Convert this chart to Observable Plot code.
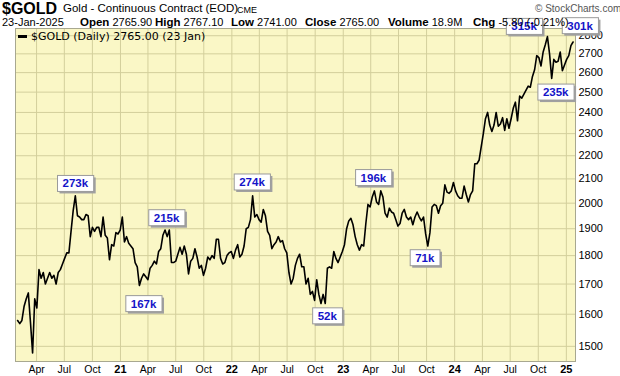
<!DOCTYPE html>
<html><head><meta charset="utf-8">
<script src="https://cdn.jsdelivr.net/npm/d3@7"></script>
<script src="https://cdn.jsdelivr.net/npm/@observablehq/plot@0.6"></script>
<style>
body{margin:0;background:#fff;width:620px;height:376px;overflow:hidden;position:relative;font-family:"Liberation Sans",Arial,sans-serif;color:#000}
#hdr{position:relative;height:28px}
#hdr span{position:absolute;white-space:nowrap;line-height:1}
.l2{top:17px;font-size:11px}
.l2 b{font-size:11.5px}
#legend{position:absolute;left:18px;top:31px;font-family:"DejaVu Sans",Verdana,sans-serif;font-size:11px;white-space:nowrap;line-height:1}
#legend i{display:inline-block;width:9px;height:3px;background:#000;vertical-align:middle;margin-right:4px;margin-top:-2px}
svg{overflow:visible}
</style></head><body>
<div id="hdr">
  <span style="left:2px;top:1px;font-size:16px;font-weight:bold">$GOLD</span>
  <span style="left:63px;top:3px;font-size:11.5px">Gold - Continuous Contract (EOD)</span>
  <span style="left:237px;top:6px;font-size:9px">CME</span>
  <span style="left:535px;top:4px;font-size:10px;color:#555">© StockCharts.com</span>
  <span class="l2" style="left:2px">23-Jan-2025</span>
  <span class="l2" style="left:80px"><b>Open</b> 2765.90</span>
  <span class="l2" style="left:155px"><b>High</b> 2767.10</span>
  <span class="l2" style="left:231px"><b>Low</b> 2741.00</span>
  <span class="l2" style="left:305px"><b>Close</b> 2765.00</span>
  <span class="l2" style="left:388px"><b>Volume</b> 18.9M</span>
  <span class="l2" style="left:473px"><b>Chg</b> -5.80 (-0.21%)</span>
</div>
<div id="chart"></div>
<div id="legend"><i></i>$GOLD (Daily) 2765.00 (23 Jan)</div>
<script>
// Weekly closes (Thursdays), starting 2020-01-30
const gold2020 = [1580,1570,1580,1625,1650,1670,1575,1480,1650,1620,
  1750,1720,1740,1700,1720,1740,1720,1730,1700,1740,
  1750,1770,1790,1810,1810,1890,1970,2030,1950,1945,
  1935,1935,1955,1950,1870,1905,1890,1905,1905,1870,
  1945,1875,1865,1785,1840,1835,1885,1880,1895];
const gold2021 = [1945,1850,1870,1845,1835,1825,1775,1760,1695,1720,
  1735,1725,1715,1755,1765,1780,1770,1815,1825,1875,
  1895,1870,1895,1775,1775,1780,1805,1830,1805,1835,
  1805,1735,1780,1790,1825,1795,1755,1765,1730,1755,
  1795,1785,1800,1790,1860,1860,1790,1770,1775,1800,
  1810,1815];
const gold2022 = [1790,1820,1840,1795,1805,1835,1900,1905,1935,2030,
  1945,1955,1935,1925,1975,1950,1890,1875,1825,1840,
  1850,1870,1850,1855,1825,1810,1740,1700,1720,1765,
  1790,1805,1760,1760,1700,1720,1665,1675,1645,1715,
  1665,1635,1665,1635,1755,1760,1755,1815,1790,1775,
  1795,1815];
const gold2023 = [1840,1900,1930,1940,1915,1870,1840,1820,1840,1835,
  1920,1995,1985,2025,2050,2005,1995,2050,2025,1960,
  1945,1980,1965,1960,1935,1910,1920,1960,1975,1945,
  1935,1945,1915,1945,1965,1945,1930,1945,1880,1835,
  1885,1985,1995,1990,1960,1990,2000,2075,2045,2040,
  2050,2085];
const gold2024 = [2050,2030,2020,2020,2070,2035,2005,2035,2050,2165,
  2165,2180,2240,2300,2370,2400,2340,2310,2340,2400,
  2335,2345,2375,2315,2370,2325,2370,2420,2450,2360,
  2480,2470,2490,2510,2530,2525,2580,2615,2690,2680,
  2635,2710,2750,2795,2700,2570,2670,2655,2660,2710,
  2610,2640];
const gold2025 = [2670,2690,2745,2765];
const startDate = "2020-01-30";

// Axis ticks
const monthTickDates = ["2020-04-01","2020-07-01","2020-10-01","2021-04-01","2021-07-01","2021-10-01",
  "2022-04-01","2022-07-01","2022-10-01","2023-04-01","2023-07-01","2023-10-01","2024-04-01","2024-07-01","2024-10-01"];
const monthTickLabels = ["Apr","Jul","Oct","Apr","Jul","Oct","Apr","Jul","Oct","Apr","Jul","Oct","Apr","Jul","Oct"];
const yearTickDates = ["2021-01-01","2022-01-01","2023-01-01","2024-01-01","2025-01-01"];
const yearTickLabels = ["21","22","23","24","25"];
const yTicks = [1500,1600,1700,1800,1900,2000,2100,2200,2300,2400,2500,2600,2700,2800];

// Volume annotations at swing points
const volLabels = ["273k","167k","215k","274k","52k","196k","71k","315k","235k","301k"];
const volDates = ["2020-08-06","2021-03-08","2021-06-01","2022-03-08","2022-11-03","2023-04-13","2023-10-05","2024-10-30","2024-11-14","2025-01-23"];
const volValues = [2030,1680,1895,2036,1636,2050,1835,2800,2570,2765];

// ---- build
const closes = [...gold2020, ...gold2021, ...gold2022, ...gold2023, ...gold2024, ...gold2025];
const t0 = new Date(startDate + "T00:00:00Z");
const series = closes.map((v, i) => ({date: d3.utcDay.offset(t0, 7 * i), close: v}));
const monthTicks = monthTickDates.map(d => new Date(d + "T00:00:00Z"));
const yearTicks = yearTickDates.map(d => new Date(d + "T00:00:00Z"));
const allTicks = [...monthTicks, ...yearTicks];
const mLab = new Map(monthTicks.map((d, i) => [+d, monthTickLabels[i]]));
const yLab = new Map(yearTicks.map((d, i) => [+d, yearTickLabels[i]]));
const annos = volLabels.map((l, i) => ({label: l, date: new Date(volDates[i] + "T00:00:00Z"), value: volValues[i]}));
// placement of each label box relative to its point (layout, not data)
const placement = [[0,-12],[3,14],[0,-12],[0,-12],[2,13],[-1,-13],[-3,12],[-23,-9],[4,14],[7,-16]];

const gridColor = "#d3cf9c";
const chart = Plot.plot({
  width: 620, height: 348,
  marginTop: 0, marginLeft: 15, marginRight: 45, marginBottom: 15,
  style: {background: "transparent", fontFamily: "'Liberation Sans', Arial, sans-serif", fontSize: "11px", overflow: "visible", color: "#000"},
  x: {type: "utc", domain: [new Date("2020-01-23T00:00:00Z"), new Date("2025-01-31T00:00:00Z")]},
  y: {type: "log", domain: [1455, 2841]},
  marks: [
    Plot.frame({fill: "#faf7c6", stroke: null}),
    Plot.gridX(allTicks, {stroke: gridColor, strokeOpacity: 1}),
    Plot.gridY(yTicks, {stroke: gridColor, strokeOpacity: 1}),
    Plot.axisY(yTicks, {anchor: "right", tickSize: 0, tickPadding: 3, tickFormat: d => String(d), fontSize: 11}),
    Plot.axisX(monthTicks, {anchor: "bottom", tickSize: 0, tickPadding: 4, tickFormat: d => mLab.get(+d), fontSize: 10.5}),
    Plot.axisX(yearTicks, {anchor: "bottom", tickSize: 0, tickPadding: 4, tickFormat: d => yLab.get(+d), fontSize: 11, fontWeight: "bold"}),
    Plot.line(series, {x: "date", y: "close", stroke: "#000", strokeWidth: 1.6, strokeLinejoin: "round"}),
    Plot.frame({stroke: "#a8a890"}),
    ...annos.map((a, i) => Plot.text([a], {x: "date", y: "value", text: "label", dx: placement[i][0], dy: placement[i][1],
      fill: "#1414c8", fontWeight: "bold", fontSize: 11.5, className: "vol-label"}))
  ]
});
document.getElementById("chart").append(chart);
const NS = "http://www.w3.org/2000/svg";
chart.querySelectorAll(".vol-label text").forEach(t => {
  const b = t.getBBox();
  const tr = t.getAttribute("transform");
  const mk = (o, fill, stroke) => {
    const r = document.createElementNS(NS, "rect");
    r.setAttribute("x", b.x - 5 + o); r.setAttribute("y", b.y - 2 + o);
    r.setAttribute("width", b.width + 10); r.setAttribute("height", b.height + 4);
    r.setAttribute("fill", fill); r.setAttribute("stroke", stroke);
    if (tr) r.setAttribute("transform", tr);
    t.parentNode.insertBefore(r, t);
  };
  mk(2, "#a0a0a0", "none");
  mk(0, "#ffffff", "#9a9a9a");
});
</script>
</body></html>
